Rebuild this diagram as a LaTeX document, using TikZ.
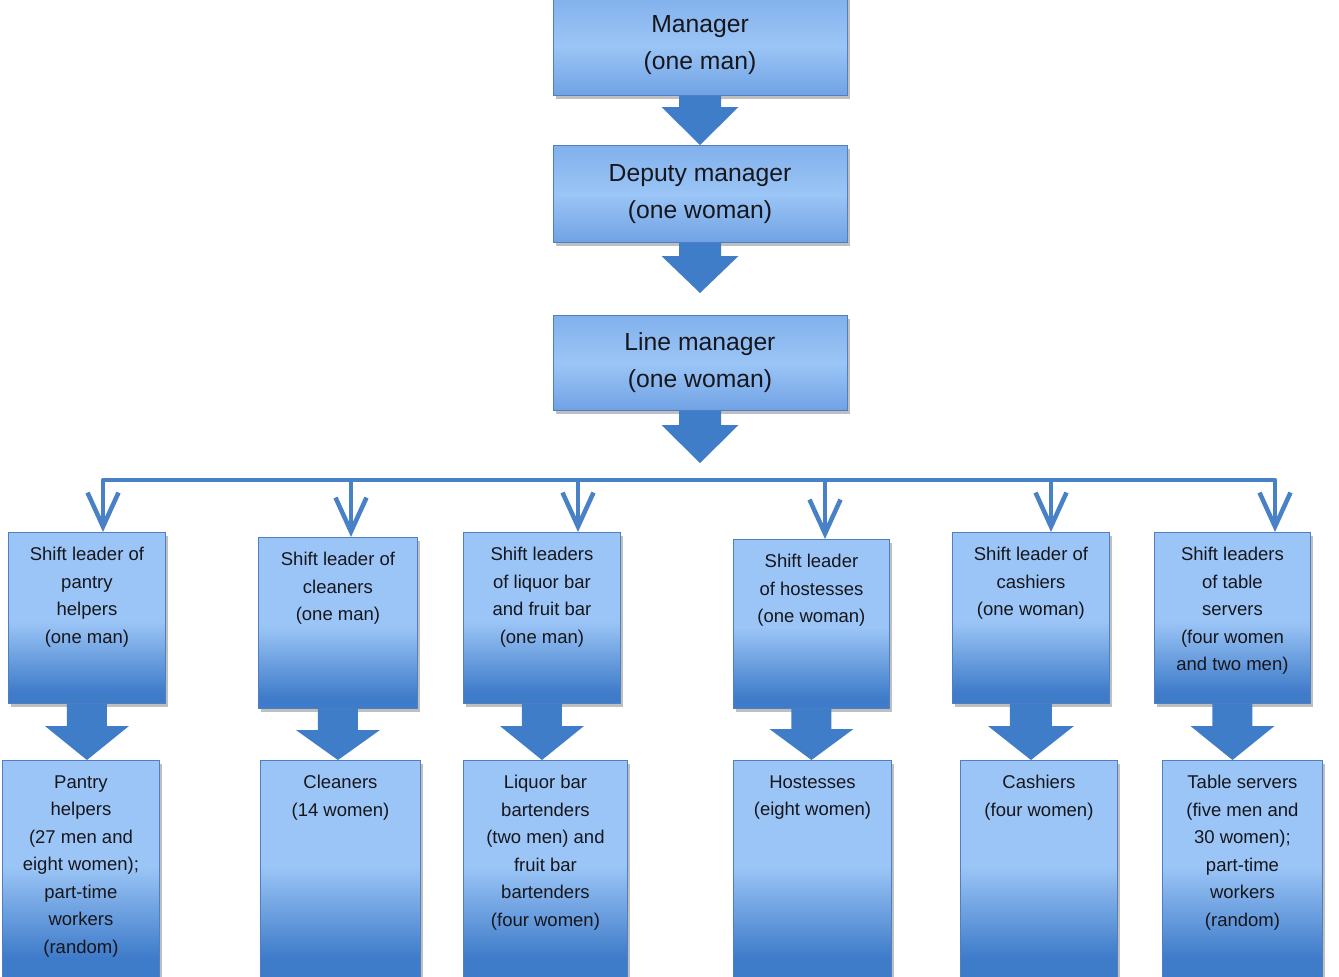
\documentclass[tikz,border=0pt]{standalone}
\usepackage{fontspec}
\setmainfont{Liberation Sans}
\usetikzlibrary{calc,shadows,arrows.meta}
\definecolor{blight}{RGB}{155,197,246}
\definecolor{bdark}{RGB}{62,123,201}
\definecolor{bmidc}{RGB}{112,162,228}
\definecolor{bborder}{RGB}{80,127,192}
\definecolor{afill}{RGB}{63,125,201}
\definecolor{busc}{RGB}{72,129,197}
\definecolor{txt}{RGB}{22,22,28}
\pgfdeclareverticalshading{lowshade}{100bp}{color(0bp)=(bdark); color(28bp)=(bdark); color(49bp)=(blight); color(100bp)=(blight)}
\pgfdeclareverticalshading{staffshade}{100bp}{color(0bp)=(bdark); color(32bp)=(bdark); color(52bp)=(blight); color(100bp)=(blight)}
\pgfdeclareverticalshading{topshade}{100bp}{color(0bp)=(bmidc); color(25bp)=(bmidc); color(50bp)=(blight); color(75bp)=(bmidc!60!blight); color(100bp)=(bmidc!60!blight)}
\newcommand{\inbox}[2]{\parbox[t][#1][t]{152pt}{\centering\vspace*{15pt}#2}}
\newcommand{\blockarrow}[5]{%
  \fill[arrowfill] let \p1=#1, \p2=#2 in
    (\x1-#3pt,\y1) -- (\x1+#3pt,\y1) -- (\x1+#3pt,\y2+#5pt) -- (\x1+#4pt,\y2+#5pt)
    -- (\x1,\y2) -- (\x1-#4pt,\y2+#5pt) -- (\x1-#3pt,\y2+#5pt) -- cycle;}
\tikzset{
  boxshadow/.style={drop shadow={shadow xshift=2.5pt, shadow yshift=-3.5pt, opacity=0.45, fill=black!55}},
  topbox/.style={draw=bborder, line width=0.9pt, shading=topshade, boxshadow,
    minimum width=294pt, inner sep=0pt, align=center, text=txt,
    font=\fontsize{24.7}{37}\selectfont},
  lowbox/.style={draw=bborder, line width=0.9pt, shading=lowshade, boxshadow,
    inner sep=0pt, anchor=north west, text=txt, font=\fontsize{18.5}{27.5}\selectfont},
  staffbox/.style={lowbox, shading=staffshade},
  arrowfill/.style={fill=afill},
  busline/.style={draw=busc, line width=4.5pt, line join=round},
  >={Straight Barb[length=34pt,width=31pt]}
}
\begin{document}
\begin{tikzpicture}[x=1pt,y=-1pt]
\useasboundingbox (0,0) rectangle (1339,977);
\clip (0,0) rectangle (1339,977);
\fill[white] (0,0) rectangle (1339,977);

% top chain
\node[topbox, minimum height=100pt, anchor=south] (man) at (700,96) {Manager\\(one man)};
\node[topbox, minimum height=97pt, anchor=north] (dep) at (700,145) {Deputy manager\\(one woman)};
\node[topbox, minimum height=95pt, anchor=north] (lin) at (700,315) {Line manager\\(one woman)};

% bus coordinates
\coordinate (b1) at (103,480);
\coordinate (b2) at (351,480);
\coordinate (b3) at (578,480);
\coordinate (b4) at (825,480);
\coordinate (b5) at (1051,480);
\coordinate (b6) at (1275,480);
\coordinate (bm) at (700,480);

% shift leader boxes
\node[lowbox, minimum width=157pt, minimum height=171pt] (s1) at (8,532) {\inbox{171pt}{Shift leader of\\pantry\\helpers\\(one man)}};
\node[lowbox, minimum width=159pt, minimum height=171pt] (s2) at (258,537) {\inbox{171pt}{Shift leader of\\cleaners\\(one man)}};
\node[lowbox, minimum width=157pt, minimum height=171pt] (s3) at (463,532) {\inbox{171pt}{Shift leaders\\of liquor bar\\and fruit bar\\(one man)}};
\node[lowbox, minimum width=156pt, minimum height=169pt] (s4) at (733,539) {\inbox{169pt}{Shift leader\\of hostesses\\(one woman)}};
\node[lowbox, minimum width=157pt, minimum height=171pt] (s5) at (952,532) {\inbox{171pt}{Shift leader of\\cashiers\\(one woman)}};
\node[lowbox, minimum width=156pt, minimum height=171pt] (s6) at (1154,532) {\inbox{171pt}{Shift leaders\\of table\\servers\\(four women\\and two men)}};

% staff boxes
\node[staffbox, minimum width=157pt, minimum height=230pt] (p1) at (2,760) {\inbox{230pt}{Pantry\\helpers\\(27 men and\\eight women);\\part-time\\workers\\(random)}};
\node[staffbox, minimum width=160pt, minimum height=230pt] (p2) at (260,760) {\inbox{230pt}{Cleaners\\(14 women)}};
\node[staffbox, minimum width=164pt, minimum height=230pt] (p3) at (463,760) {\inbox{230pt}{Liquor bar\\bartenders\\(two men) and\\fruit bar\\bartenders\\(four women)}};
\node[staffbox, minimum width=158pt, minimum height=230pt] (p4) at (733,760) {\inbox{230pt}{Hostesses\\(eight women)}};
\node[staffbox, minimum width=157pt, minimum height=230pt] (p5) at (960,760) {\inbox{230pt}{Cashiers\\(four women)}};
\node[staffbox, minimum width=160pt, minimum height=230pt] (p6) at (1162,760) {\inbox{230pt}{Table servers\\(five men and\\30 women);\\part-time\\workers\\(random)}};

% block arrows, top chain
\blockarrow{(man.south)}{(dep.north)}{21}{38.5}{38}
\blockarrow{(dep.south)}{($(lin.north)+(0,-22)$)}{21}{38.5}{37}
\blockarrow{(lin.south)}{($(bm)+(0,-17)$)}{21}{38.5}{38}

% bus with drops
\draw[busline, <->] (b1 |- s1.north) -- (b1) -- (b6) -- (b6 |- s6.north);
\draw[busline, ->] (b2) -- (b2 |- s2.north);
\draw[busline, ->] (b3) -- (b3 |- s3.north);
\draw[busline, ->] (b4) -- (b4 |- s4.north);
\draw[busline, ->] (b5) -- (b5 |- s5.north);

% block arrows, lower row
\blockarrow{(s1.south)}{(s1.south |- p1.north)}{20}{42}{34}
\blockarrow{(s2.south)}{(s2.south |- p2.north)}{20}{42}{30}
\blockarrow{(s3.south)}{(s3.south |- p3.north)}{20}{42}{34}
\blockarrow{(s4.south)}{(s4.south |- p4.north)}{20}{42}{31}
\blockarrow{(s5.south)}{(s5.south |- p5.north)}{21}{43}{34}
\blockarrow{(s6.south)}{(s6.south |- p6.north)}{20}{42}{34}
\end{tikzpicture}
\end{document}
